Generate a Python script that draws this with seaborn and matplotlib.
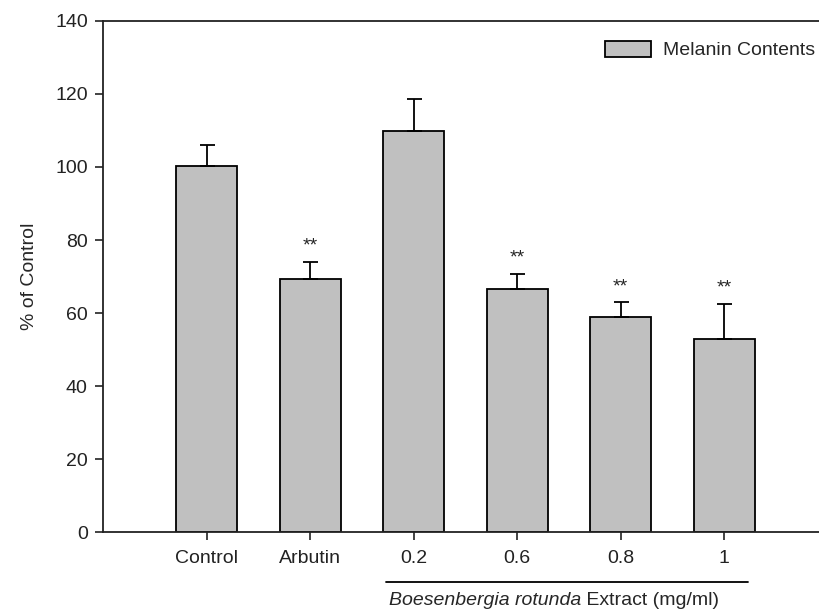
import matplotlib
matplotlib.use("Agg")
import matplotlib.pyplot as plt
import matplotlib.transforms as mtransforms
import seaborn as sns
import pandas as pd

categories = ["Control", "Arbutin", "0.2", "0.6", "0.8", "1"]
melanin = [100.2, 69.3, 109.9, 66.6, 58.8, 52.8]
errors = [5.8, 4.7, 8.7, 4.1, 4.1, 9.7]
significance = ["", "**", "", "**", "**", "**"]
series_name = "Melanin Contents"
y_ticks = [0, 20, 40, 60, 80, 100, 120, 140]

df = pd.DataFrame({"group": categories, "value": melanin, "series": series_name})

sns.set_style("ticks")
plt.rcParams["font.family"] = ["Liberation Sans", "DejaVu Sans"]

fig = plt.figure(figsize=(8.19, 6.12), dpi=100)
ax = fig.add_axes([0.1258, 0.1307, 0.885, 0.835])

sns.barplot(data=df, x="group", y="value", hue="series", palette=["#c0c0c0"],
            edgecolor="black", linewidth=1.3, width=0.59, ax=ax, saturation=1)

xpos = list(range(len(categories)))
ax.errorbar(xpos, melanin, yerr=[[0] * len(errors), errors], fmt="none",
            ecolor="black", elinewidth=1.3, capsize=5.4, capthick=1.3, zorder=3)

for x, v, e, s in zip(xpos, melanin, errors, significance):
    if s:
        ax.text(x, v + e + 2.0, s, ha="center", va="bottom", fontsize=14)

ax.set_xlim(-1, 6)
ax.set_ylim(0, 140)
ax.set_yticks(y_ticks)
ax.set_yticklabels([str(t) for t in y_ticks])
ax.set_xlabel("")
ax.set_ylabel("% of Control", fontsize=14, labelpad=12)
ax.tick_params(axis="both", labelsize=14, length=6, width=1.2, direction="out", colors="#222222")
ax.tick_params(axis="y", pad=5)
ax.tick_params(axis="x", pad=7)
for sp in ax.spines.values():
    sp.set_linewidth(1.3)
    sp.set_color("#222222")
ax.spines["right"].set_visible(True)
ax.spines["top"].set_visible(True)

leg = ax.legend(loc="upper right", bbox_to_anchor=(815 / 819, 1 - 41 / 612),
                bbox_transform=fig.transFigure, frameon=False, fontsize=14,
                borderpad=0, borderaxespad=0,
                handlelength=2.4, handleheight=0.85, handletextpad=0.6)

trans = mtransforms.blended_transform_factory(ax.transData, ax.transAxes)
ax.plot([1.73, 5.23], [-0.098, -0.098], transform=trans, color="black", lw=1.3, clip_on=False)
ax.text(3.62, -0.134, "Boesenbergia rotunda", transform=trans, ha="right", va="center",
        fontsize=14, style="italic")
ax.text(3.62, -0.134, " Extract (mg/ml)", transform=trans, ha="left", va="center", fontsize=14)

fig.savefig("out.png", dpi=100)
